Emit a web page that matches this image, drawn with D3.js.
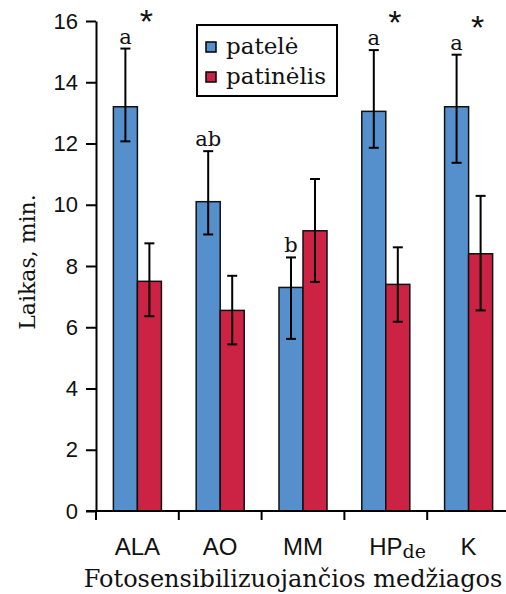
<!DOCTYPE html>
<html>
<head>
<meta charset="utf-8">
<script src="https://cdn.jsdelivr.net/npm/d3@7"></script>
<style>
    body { margin: 0; background: #fff; }
    svg { display: block; }
</style>
</head>
<body>
<div class="container"></div>
<script>
const categories = ['ALA', 'AO', 'MM', 'HP', 'K'];
const categorySuffix = ['', '', '', 'de', ''];
const series = ['patelė', 'patinėlis'];
const colors = ['#5590cd', '#cc2244'];

// mean time, min
const femaleMean = [13.2, 10.1, 7.3, 13.05, 13.2];
const maleMean = [7.5, 6.55, 9.15, 7.4, 8.4];
// error bar ends
const femaleHigh = [15.1, 11.75, 8.28, 15.05, 14.9];
const femaleLow = [12.07, 9.03, 5.62, 11.86, 11.37];
const maleHigh = [8.74, 7.68, 10.84, 8.61, 10.29];
const maleLow = [6.36, 5.44, 7.48, 6.18, 6.55];

// significance letters over female bars and asterisks
const letters = ['a', 'ab', 'b', 'a', 'a'];
const stars = [true, false, false, true, true];

const yTicks = [0, 2, 4, 6, 8, 10, 12, 14, 16];

const width = 506;
const height = 594;
const serif = '"DejaVu Serif", serif';
const sans = '"Liberation Sans", Arial, sans-serif';

const svg = d3.select('.container')
    .append('svg')
    .attr('width', width)
    .attr('height', height);

const x0 = d3.scaleBand().domain(categories).range([96, 510]);
const bw = x0.bandwidth();
const x1 = d3.scaleBand().domain(series).range([bw * 0.21, bw * 0.79]);
const y = d3.scaleLinear().domain([0, 16]).range([511, 21]);

const data = categories.map((c, i) => ({
    cat: c,
    bars: [
        { s: series[0], v: femaleMean[i], hi: femaleHigh[i], lo: femaleLow[i], color: colors[0] },
        { s: series[1], v: maleMean[i], hi: maleHigh[i], lo: maleLow[i], color: colors[1] },
    ],
}));

// bars
const groups = svg.selectAll('.group')
    .data(data)
    .enter()
    .append('g')
    .attr('class', 'group')
    .attr('transform', d => `translate(${x0(d.cat)},0)`);

groups.selectAll('rect')
    .data(d => d.bars)
    .enter()
    .append('rect')
    .attr('x', d => x1(d.s))
    .attr('y', d => y(d.v))
    .attr('width', x1.bandwidth())
    .attr('height', d => y(0) - y(d.v))
    .attr('fill', d => d.color)
    .attr('stroke', '#111')
    .attr('stroke-width', 1.5);

// error bars
const err = groups.selectAll('.err')
    .data(d => d.bars)
    .enter()
    .append('g')
    .attr('class', 'err')
    .attr('stroke', '#000')
    .attr('stroke-width', 2);
const cx = d => x1(d.s) + x1.bandwidth() / 2;
err.append('line')
    .attr('x1', cx).attr('x2', cx)
    .attr('y1', d => y(d.hi)).attr('y2', d => y(d.lo));
err.append('line')
    .attr('x1', d => cx(d) - 5).attr('x2', d => cx(d) + 5)
    .attr('y1', d => y(d.hi)).attr('y2', d => y(d.hi));
err.append('line')
    .attr('x1', d => cx(d) - 5).attr('x2', d => cx(d) + 5)
    .attr('y1', d => y(d.lo)).attr('y2', d => y(d.lo));

// letters above female bars
groups.append('text')
    .attr('x', (d, i) => x1(series[0]) + x1.bandwidth() / 2)
    .attr('y', (d, i) => y(femaleHigh[i]) - 5)
    .attr('text-anchor', 'middle')
    .attr('font-family', serif)
    .attr('font-size', 21)
    .attr('fill', '#111')
    .text((d, i) => letters[i]);

groups.filter((d, i) => stars[i])
    .append('text')
    .attr('x', bw / 2 + 9)
    .attr('y', d => y(d.bars[0].hi) - 16)
    .attr('text-anchor', 'middle')
    .attr('font-family', sans)
    .attr('font-size', 34)
    .attr('fill', '#111')
    .text('*');

// y axis
const yAxis = svg.append('g')
    .attr('transform', 'translate(96,0)')
    .call(d3.axisLeft(y).tickValues(yTicks).tickSize(10).tickSizeOuter(0).tickPadding(8));
yAxis.select('.domain').attr('stroke', '#000').attr('stroke-width', 2);
yAxis.selectAll('.tick line').attr('stroke', '#000').attr('stroke-width', 2);
yAxis.selectAll('.tick text')
    .attr('font-family', sans)
    .attr('font-size', 22)
    .attr('fill', '#111');

// x axis
const xAxis = svg.append('g');
xAxis.append('line')
    .attr('x1', 86).attr('x2', 510)
    .attr('y1', y(0)).attr('y2', y(0))
    .attr('stroke', '#000').attr('stroke-width', 2);
xAxis.selectAll('.xtick')
    .data(categories)
    .enter()
    .append('line')
    .attr('x1', d => x0(d)).attr('x2', d => x0(d))
    .attr('y1', y(0)).attr('y2', y(0) + 9)
    .attr('stroke', '#000').attr('stroke-width', 2);

const catLabels = xAxis.selectAll('.xlab')
    .data(categories)
    .enter()
    .append('text')
    .attr('class', 'xlab')
    .attr('y', 555)
    .attr('font-family', sans)
    .attr('font-size', 24)
    .attr('fill', '#111');
catLabels.append('tspan').text(d => d);
catLabels.filter((d, i) => categorySuffix[i])
    .append('tspan')
    .attr('font-family', serif)
    .attr('font-size', 19)
    .attr('dy', 3)
    .text((d) => categorySuffix[categories.indexOf(d)]);
// centre the main label, the suffix hangs to the right
catLabels.each(function(d) {
    const main = d3.select(this).select('tspan').node().getComputedTextLength();
    d3.select(this).attr('x', x0(d) + bw / 2 - main / 2);
});

// axis titles
svg.append('text')
    .attr('x', 293)
    .attr('y', 587)
    .attr('text-anchor', 'middle')
    .attr('font-family', serif)
    .attr('font-size', 24)
    .attr('fill', '#111')
    .text('Fotosensibilizuojančios medžiagos');

svg.append('text')
    .attr('transform', 'translate(35,262) rotate(-90)')
    .attr('text-anchor', 'middle')
    .attr('font-family', serif)
    .attr('font-size', 22)
    .attr('fill', '#111')
    .text('Laikas, min.');

// legend
const legend = svg.append('g').attr('transform', 'translate(197,25)');
legend.append('rect')
    .attr('width', 140).attr('height', 71)
    .attr('fill', '#fff')
    .attr('stroke', '#000').attr('stroke-width', 2);
const items = legend.selectAll('.item')
    .data(series)
    .enter()
    .append('g')
    .attr('transform', (d, i) => `translate(0,${22 + i * 30})`);
items.append('rect')
    .attr('x', 9).attr('y', -5)
    .attr('width', 10).attr('height', 10)
    .attr('fill', (d, i) => colors[i])
    .attr('stroke', '#000').attr('stroke-width', 1.5);
items.append('text')
    .attr('x', 29).attr('y', 7)
    .attr('font-family', serif)
    .attr('font-size', 23)
    .attr('fill', '#111')
    .text(d => d);
</script>
</body>
</html>
